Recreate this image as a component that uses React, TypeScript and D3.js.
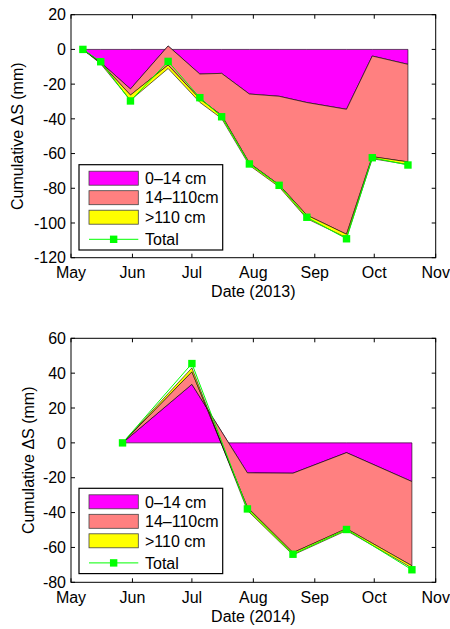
import React from "react";
import * as d3 from "d3";

// ---- 2013 season ----
const dates2013 = ["2013-05-07", "2013-05-16", "2013-05-31", "2013-06-19", "2013-07-05", "2013-07-16", "2013-07-30", "2013-08-14", "2013-08-28", "2013-09-17", "2013-09-30", "2013-10-18"];
const shallow2013 = [0, -7.5, -22.8, 2.0, -14.2, -13.8, -25.7, -27.0, -30.6, -34.5, -3.8, -8.6];
const middle2013 = [0, -0.3, -3.5, -11.0, -14.3, -24.2, -39.8, -51.0, -64.9, -72.0, -58.0, -56.2];
const deep2013 = [0, -0.5, -3.0, -2.0, -2.0, -1.8, -1.3, -1.2, -2.0, -2.0, -1.2, -1.5];
const total2013 = [0, -7.1, -29.7, -6.9, -27.8, -38.8, -66.0, -78.3, -96.7, -109.1, -62.4, -66.6];
const yTicks2013 = [-120, -100, -80, -60, -40, -20, 0, 20];

// ---- 2014 season ----
const dates2014 = ["2014-05-27", "2014-07-01", "2014-07-29", "2014-08-21", "2014-09-17", "2014-10-20"];
const shallow2014 = [0, 33.6, -17.2, -17.4, -5.6, -22.2];
const middle2014 = [0, 7.2, -19.8, -45.6, -43.6, -48.3];
const deep2014 = [0, 2.2, -1.8, -1.3, -1.1, -1.3];
const total2014 = [0, 45.5, -37.9, -63.9, -49.7, -72.8];
const yTicks2014 = [-80, -60, -40, -20, 0, 20, 40, 60];

const layerNames = ["0\u201314 cm", "14\u2013110cm", ">110 cm"];
const layerColors = ["#FF00FF", "#FF8080", "#FFFF00"];
const totalName = "Total";
const totalColor = "#00FF00";

const FONT = "'Liberation Sans', Arial, Helvetica, sans-serif";
const FS = 16;
const HALF_CAP = 5.7;

type PanelProps = {
  year: number;
  dates: string[];
  layers: number[][];
  total: number[];
  yTicks: number[];
  top: number;
  bottom: number;
  yLabelX: number;
};

function Panel({ year, dates, layers, total, yTicks, top, bottom, yLabelX }: PanelProps) {
  const left = 71;
  const right = 435.7;
  const x = d3.scaleUtc().domain([new Date(Date.UTC(year, 4, 1)), new Date(Date.UTC(year, 10, 1))]).range([left, right]);
  const y = d3.scaleLinear().domain([yTicks[0], yTicks[yTicks.length - 1]]).range([bottom, top]);
  const parsed = dates.map((s) => d3.utcParse("%Y-%m-%d")(s) as Date);

  // stacked bands: each layer sits on the running sum of the layers above it
  let base = parsed.map(() => 0);
  const bands = layers.map((vals) => {
    const lo = base;
    const hi = base.map((b, i) => b + vals[i]);
    base = hi;
    return parsed.map((dt, i) => ({ dt, lo: lo[i], hi: hi[i] }));
  });
  const area = d3
    .area<{ dt: Date; lo: number; hi: number }>()
    .x((d) => x(d.dt))
    .y0((d) => y(d.lo))
    .y1((d) => y(d.hi));
  const line = d3
    .line<number>()
    .x((_, i) => x(parsed[i]))
    .y((v) => y(v));

  const xTicks = x.ticks(d3.utcMonth.every(1)!);
  const fmt = d3.utcFormat("%b");
  const tl = 4;

  // legend
  const lgX = 79;
  const lgY = top + 150;
  const lgW = 143.7;
  const lgH = 85.3;
  const rowC = [13.5, 33, 52.5, 74.6];
  const swX = lgX + 10;
  const swW = 49.3;
  const swH = 14;

  return (
    <g>
      {bands.map((b, k) => (
        <path key={k} d={area(b) || ""} fill={layerColors[k]} stroke="#000" strokeWidth={0.6} />
      ))}
      <path d={line(total) || ""} fill="none" stroke={totalColor} strokeWidth={1} />
      {total.map((v, i) => (
        <rect key={i} x={x(parsed[i]) - 3.7} y={y(v) - 3.7} width={7.4} height={7.4} fill={totalColor} />
      ))}

      {/* axes box and inward ticks */}
      <rect x={left} y={top} width={right - left} height={bottom - top} fill="none" stroke="#000" strokeWidth={1} />
      {xTicks.map((t, i) => (
        <g key={"x" + i}>
          <line x1={x(t)} x2={x(t)} y1={bottom} y2={bottom - tl} stroke="#000" />
          <line x1={x(t)} x2={x(t)} y1={top} y2={top + tl} stroke="#000" />
          <text x={x(t)} y={bottom + 20.3} textAnchor="middle" fontFamily={FONT} fontSize={FS}>
            {fmt(t)}
          </text>
        </g>
      ))}
      {yTicks.map((t, i) => (
        <g key={"y" + i}>
          <line x1={left} x2={left + tl} y1={y(t)} y2={y(t)} stroke="#000" />
          <line x1={right} x2={right - tl} y1={y(t)} y2={y(t)} stroke="#000" />
          <text x={66} y={y(t) + HALF_CAP} textAnchor="end" fontFamily={FONT} fontSize={FS}>
            {t}
          </text>
        </g>
      ))}
      <text x={(left + right) / 2} y={bottom + 39.5} textAnchor="middle" fontFamily={FONT} fontSize={FS}>
        {`Date (${year})`}
      </text>
      <text
        transform={`translate(${yLabelX},${(top + bottom) / 2}) rotate(-90)`}
        textAnchor="middle"
        dominantBaseline="central"
        fontFamily={FONT}
        fontSize={FS}
      >
        Cumulative ΔS (mm)
      </text>

      {/* legend */}
      <rect x={lgX} y={lgY} width={lgW} height={lgH} fill="#fff" stroke="#000" strokeWidth={1.2} />
      {layerNames.map((name, k) => (
        <g key={"lg" + k}>
          <rect x={swX} y={lgY + rowC[k] - swH / 2} width={swW} height={swH} fill={layerColors[k]} stroke="#444" strokeWidth={0.8} />
          <text x={lgX + 66} y={lgY + rowC[k] + HALF_CAP} fontFamily={FONT} fontSize={FS}>
            {name}
          </text>
        </g>
      ))}
      <line x1={swX} x2={swX + swW} y1={lgY + rowC[3]} y2={lgY + rowC[3]} stroke={totalColor} strokeWidth={1} />
      <rect x={swX + swW / 2 - 3.7} y={lgY + rowC[3] - 3.7} width={7.4} height={7.4} fill={totalColor} />
      <text x={lgX + 66} y={lgY + rowC[3] + HALF_CAP} fontFamily={FONT} fontSize={FS}>
        {totalName}
      </text>
    </g>
  );
}

export default function App() {
  return (
    <svg width={450} height={629} style={{ position: "absolute", left: 0, top: 0, background: "#fff" }}>
      <rect width={450} height={629} fill="#fff" />
      <Panel
        year={2013}
        dates={dates2013}
        layers={[shallow2013, middle2013, deep2013]}
        total={total2013}
        yTicks={yTicks2013}
        top={14.7}
        bottom={257.7}
        yLabelX={17.5}
      />
      <Panel
        year={2014}
        dates={dates2014}
        layers={[shallow2014, middle2014, deep2014]}
        total={total2014}
        yTicks={yTicks2014}
        top={338.3}
        bottom={582.3}
        yLabelX={28.5}
      />
    </svg>
  );
}
